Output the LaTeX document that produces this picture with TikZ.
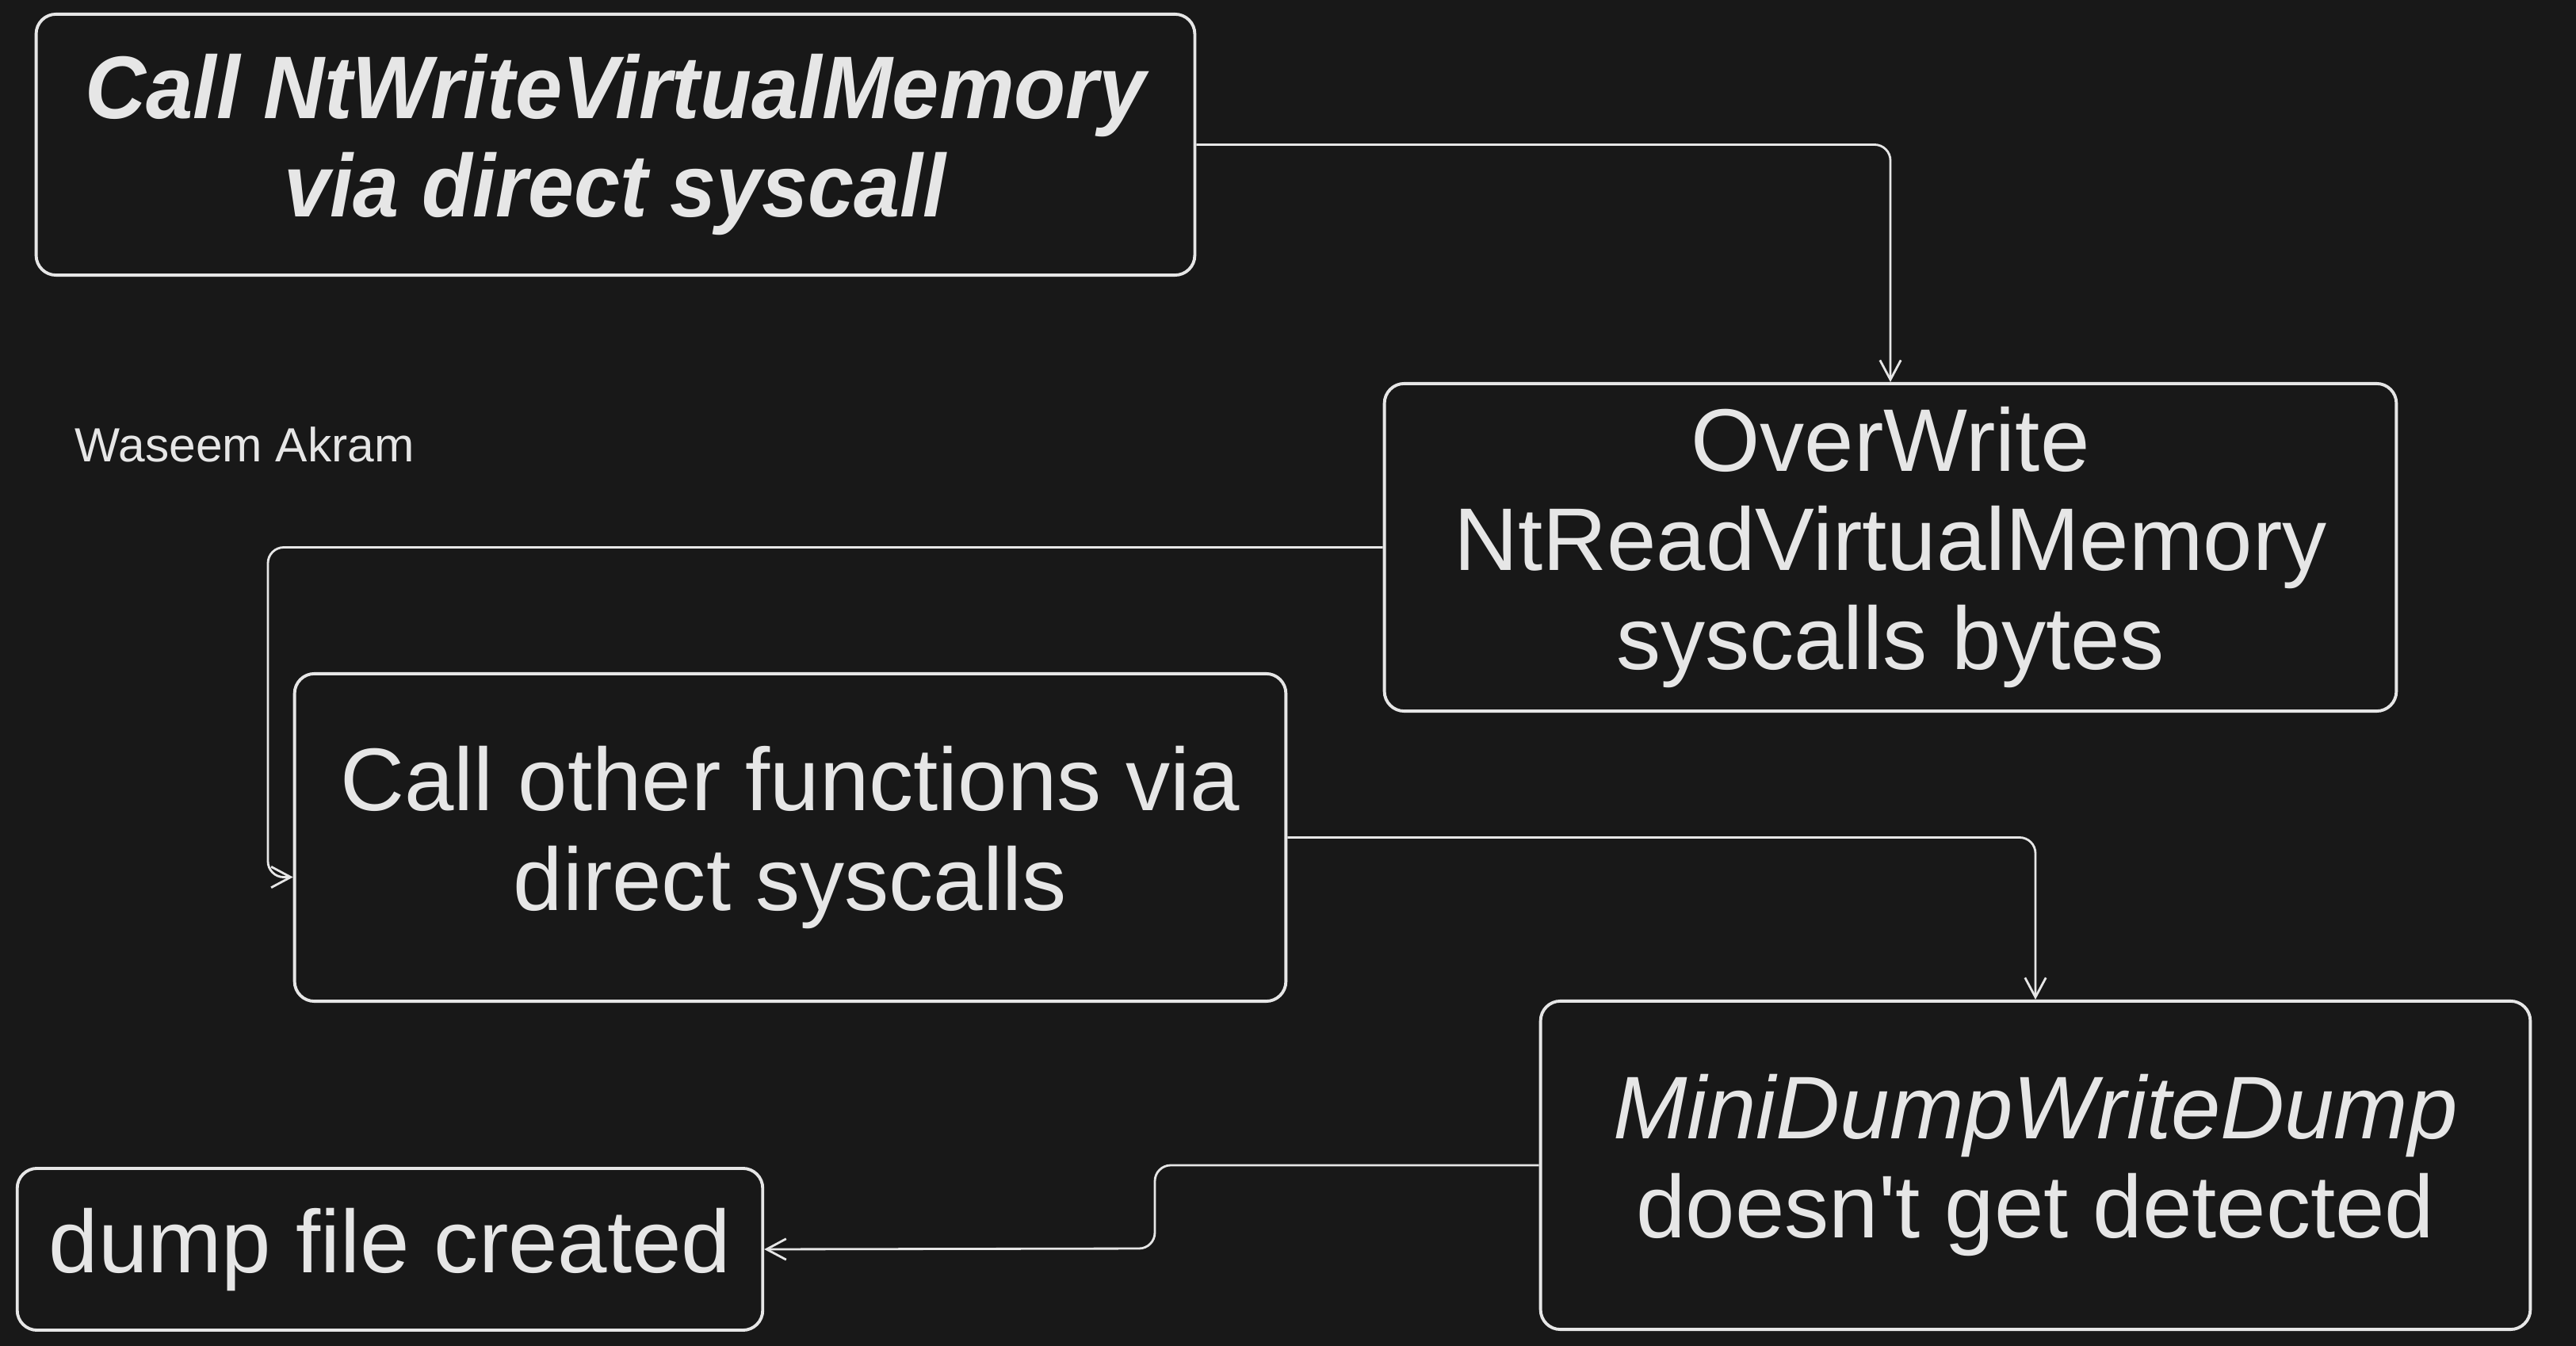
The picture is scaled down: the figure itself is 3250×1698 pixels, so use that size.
\documentclass[tikz,border=0pt]{standalone}
\usepackage{fontspec}
\setmainfont{Liberation Sans}
\newfontfamily\plainsans{Liberation Sans}
\usetikzlibrary{arrows.meta}
\definecolor{bg}{HTML}{181818}
\definecolor{ink}{HTML}{E6E6E6}
\begin{document}
\begin{tikzpicture}[x=0.01cm,y=-0.01cm,
  box/.style={draw=ink, line width=1.1pt, rounded corners=0.25cm, fill=bg, inner sep=0pt,
    text=ink, align=center, font=\fontsize{31.9}{35.6}\selectfont},
  conn/.style={draw=ink, line width=0.8pt, rounded corners=0.2cm,
    -{Straight Barb[length=7pt,width=7.5pt]}},
  sign/.style={text=ink, inner sep=0pt, anchor=base west, font=\fontsize{17.2}{20}\selectfont}]
\fill[bg] (0,0) rectangle (3250,1698);
\useasboundingbox (0,0) rectangle (3250,1698);
\node[box, minimum width=14.61cm, minimum height=3.29cm, font=\fontsize{31.9}{35.3}\selectfont\bfseries\itshape] (b1) at (776.5,182.5)
  {\scalebox{0.95}[1]{Call NtWriteVirtualMemory}\\ \scalebox{0.93}[1]{via direct syscall}};
\node[box, minimum width=12.76cm, minimum height=4.13cm] (b2) at (2385,690.5)
  {OverWrite\\ NtReadVirtualMemory\\ syscalls bytes};
\node[box, minimum width=12.50cm, minimum height=4.13cm] (b3) at (997,1056.5)
  {Call other functions via\\ direct syscalls};
\node[box, minimum width=12.48cm, minimum height=4.14cm] (b4) at (2568,1470)
  {\textit{MiniDumpWriteDump}\\ doesn{\plainsans '}t get detected};
\node[box, minimum width=9.40cm, minimum height=2.04cm] (b5) at (492,1576)
  {dump file created};
\node[sign] (sig) at (94,583) {Waseem Akram};
\coordinate (k2) at (338,690.5);
\coordinate (k4) at (1457,1575);
\draw[conn] (b1.east) -| (b2.north);
\draw[conn] (b2.west) -- (k2) |- ([yshift=-0.5cm]b3.west);
\draw[conn] (b3.east) -| (b4.north);
\draw[conn] (b4.west) -| (k4) -- (b5.east);
\end{tikzpicture}
\end{document}
